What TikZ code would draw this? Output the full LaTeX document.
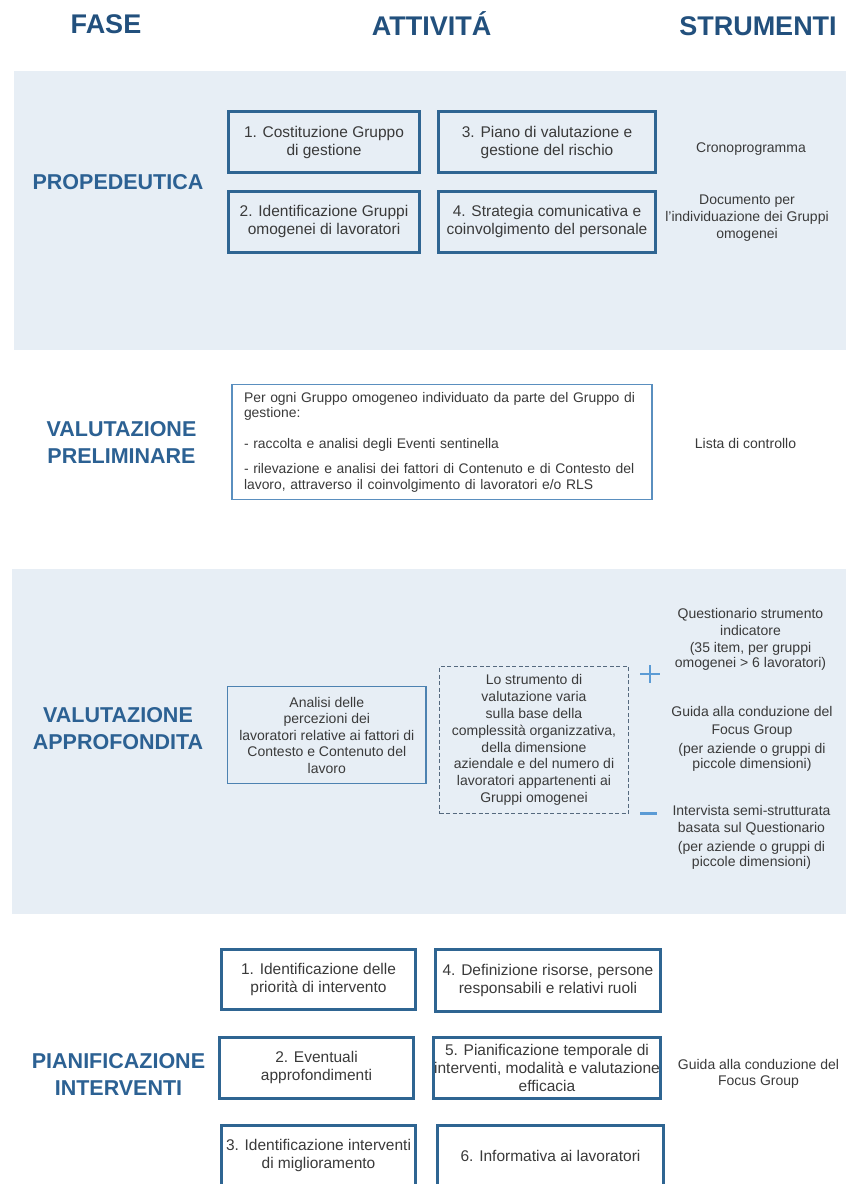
\documentclass[tikz,border=0pt]{standalone}
\usepackage{fontspec}
\setmainfont{Liberation Sans}
\definecolor{panel}{HTML}{E7EEF5}
\definecolor{hdr}{HTML}{22507D}
\definecolor{phasecol}{HTML}{2C6193}
\definecolor{bord}{HTML}{2F6592}
\definecolor{thinbord}{HTML}{5A8FBF}
\definecolor{txt}{HTML}{3A3A3A}
\definecolor{pmcol}{HTML}{5B9BD5}
\definecolor{dashcol}{HTML}{55697E}
\begin{document}
\begin{tikzpicture}[x=1pt,y=-1pt,
  header/.style={font=\fontsize{27}{30}\selectfont\bfseries, text=hdr, inner sep=0, anchor=base},
  phaselbl/.style={font=\fontsize{21.5}{27}\selectfont\bfseries, text=phasecol, align=center, inner sep=0},
  actbox/.style={draw=bord, line width=3pt, align=center, inner sep=0, text=txt,
    font=\fontsize{15.5}{18}\selectfont},
  tooltxt/.style={align=center, inner sep=0, text=txt, font=\fontsize{14}{15}\selectfont},
  pmline/.style={draw=pmcol, line width=2.6pt}
]
\useasboundingbox (0,0) rectangle (846,1184);
\clip (0,0) rectangle (846,1184);
\fill[white] (0,0) rectangle (846,1184);

% panels
\fill[panel] (14,71) rectangle (846,350);
\fill[panel] (12,569) rectangle (846,914);

% headers
\node[header] (hfase) at (106,33.3) {FASE};
\node[header] (hatt) at (431.5,35) {ATTIVITÁ};
\node[header] (hstr) at (758,35.5) {STRUMENTI};

% phase labels
\node[phaselbl] (ph1) at (118,182) {PROPEDEUTICA};
\node[phaselbl] (ph2) at (121.5,442) {VALUTAZIONE\\PRELIMINARE};
\node[phaselbl] (ph3) at (118,728.2) {VALUTAZIONE\\APPROFONDITA};
\node[phaselbl] (ph4) at (118.5,1074.8) {PIANIFICAZIONE\\INTERVENTI};

% PROPEDEUTICA boxes
\node[actbox, fill=panel, minimum width=191pt, minimum height=61pt] (a1) at (324,142)
  {1. Costituzione Gruppo\\di gestione};
\node[actbox, fill=panel, minimum width=191pt, minimum height=61.5pt] (a2) at (324,221.8)
  {2. Identificazione Gruppi\\omogenei di lavoratori};
\node[actbox, fill=panel, minimum width=217pt, minimum height=61pt] (a3) at (547,142)
  {3. Piano di valutazione e\\gestione del rischio};
\node[actbox, fill=panel, minimum width=217pt, minimum height=61.5pt] (a4) at (547,221.8)
  {4. Strategia comunicativa e\\coinvolgimento del personale};

\node[tooltxt] (s1) at (751,149) {Cronoprogramma};
\node[tooltxt, font=\fontsize{14}{17}\selectfont] (s2) at (747,218.5)
  {Documento per\\l'individuazione dei Gruppi\\omogenei};

% VALUTAZIONE PRELIMINARE
\node[draw=thinbord, line width=1.3pt, fill=white, text=txt, align=left,
  text width=396pt, inner xsep=12pt, inner ysep=0pt, minimum height=115pt,
  font=\fontsize{13.9}{15.8}\selectfont] (vp) at (442,442)
  {Per ogni Gruppo omogeneo individuato da parte del Gruppo di\\
   gestione:\\[15pt]
   - raccolta e analisi degli Eventi sentinella\\[8.7pt]
   - rilevazione e analisi dei fattori di Contenuto e di Contesto del\\
   lavoro, attraverso il coinvolgimento di lavoratori e/o RLS};
\node[tooltxt] (s3) at (745.5,443.4) {Lista di controllo};

% VALUTAZIONE APPROFONDITA
\node[draw=thinbord!70!bord, line width=1.3pt, fill=panel, text=txt, align=center,
  inner sep=0, minimum width=198.3pt, minimum height=96.7pt,
  font=\fontsize{14}{16.5}\selectfont] (va) at (326.8,735)
  {Analisi delle\\percezioni dei\\lavoratori relative ai fattori di\\Contesto e Contenuto del\\lavoro};
\node[draw=dashcol, line width=1.2pt, dash pattern=on 4pt off 2.5pt, fill=panel, text=txt,
  align=center, inner sep=0, minimum width=189pt, minimum height=147pt,
  font=\fontsize{14}{16.8}\selectfont] (vd) at (534,740)
  {Lo strumento di\\valutazione varia\\sulla base della\\complessità organizzativa,\\della dimensione\\aziendale e del numero di\\lavoratori appartenenti ai\\Gruppi omogenei};

\draw[pmline] (640,674) -- (660,674) (650,665) -- (650,683);
\draw[pmline, line width=3pt] (640,813.5) -- (657,813.5);

\node[tooltxt] (s4) at (750.5,639.1)
  {Questionario strumento\\[2pt]indicatore\\[2pt](35 item, per gruppi\\omogenei > 6 lavoratori)};
\node[tooltxt] (s5) at (752,739)
  {Guida alla conduzione del\\[2.3pt]Focus Group\\[4pt](per aziende o gruppi di\\piccole dimensioni)};
\node[tooltxt] (s6) at (751.5,837.3)
  {Intervista semi-strutturata\\[2.7pt]basata sul Questionario\\[3.7pt](per aziende o gruppi di\\piccole dimensioni)};

% PIANIFICAZIONE INTERVENTI
\node[actbox, fill=white, minimum width=194pt, minimum height=60pt] (p1) at (318.5,979.5)
  {1. Identificazione delle\\priorità di intervento};
\node[actbox, fill=white, minimum width=194pt, minimum height=61pt] (p2) at (316.5,1067.8)
  {2. Eventuali\\approfondimenti};
\node[actbox, fill=white, minimum width=194pt, minimum height=61pt] (p3) at (318.5,1155.5)
  {3. Identificazione interventi\\di miglioramento};
\node[actbox, fill=white, minimum width=225pt, minimum height=62pt] (p4) at (548,980.4)
  {4. Definizione risorse, persone\\responsabili e relativi ruoli};
\node[actbox, fill=white, minimum width=227pt, minimum height=61pt] (p5) at (547,1067.8)
  {5. Pianificazione temporale di\\interventi, modalità e valutazione\\efficacia};
\node[actbox, fill=white, minimum width=226pt, minimum height=61pt] (p6) at (550.5,1155.5)
  {6. Informativa ai lavoratori};
\node[tooltxt, font=\fontsize{14}{15.7}\selectfont] (s7) at (758.5,1074)
  {Guida alla conduzione del\\Focus Group};
\end{tikzpicture}
\end{document}
